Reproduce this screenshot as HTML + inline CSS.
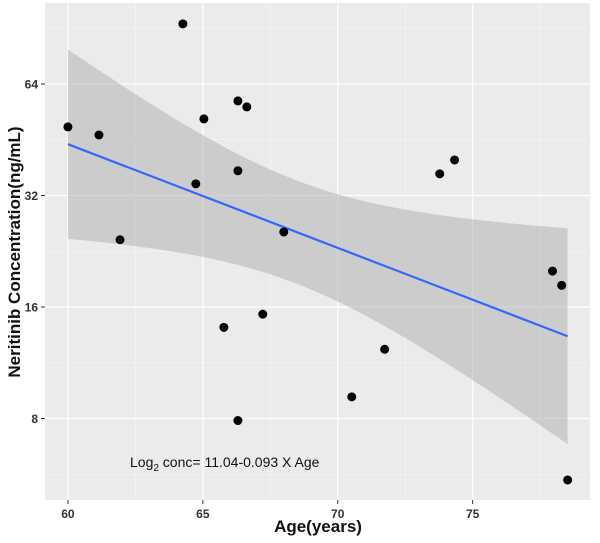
<!DOCTYPE html>
<html><head><meta charset="utf-8"><style>
body{margin:0;background:#fff;}
svg{display:block;font-family:"Liberation Sans",Arial,sans-serif;}
</style></head><body>
<svg id="chart" width="600" height="543" viewBox="0 0 600 543">
<rect x="45" y="3" width="545" height="497" fill="#ebebeb"/>
<g id="grid"></g><g id="band"></g><g id="line"></g><g id="pts"></g><g id="axes"></g>
<text x="130" y="467" font-size="14" fill="#111">Log<tspan font-size="10" dy="4">2</tspan><tspan dy="-4"> conc= 11.04-0.093 X Age</tspan></text>
<text x="318" y="532" font-size="17" font-weight="bold" text-anchor="middle" fill="#111">Age(years)</text>
<text transform="translate(20,252) rotate(-90)" font-size="17" font-weight="bold" text-anchor="middle" fill="#111">Neritinib Concentration(ng/mL)</text>
</svg>
<script>
const ages=[60,61.15,61.93,64.26,64.74,65.04,65.78,66.3,66.63,66.3,66.3,67.22,68,70.52,71.74,73.78,74.33,77.96,78.3,78.52];
const concs=[49,46.6,24.3,93,34.4,51.5,14.1,57.6,55.5,37.3,7.9,15.3,25.5,9.15,12.3,36.6,39.9,20,18.3,5.46];
const xTicks=[60,65,70,75];
const yTicks=[8,16,32,64];
const coef=[11.04,-0.093];
const NS="http://www.w3.org/2000/svg";
const X0=45,X1=590,Y0=3,Y1=500,dx=[59.15,79.35],dy=[2.269,6.726];
const sx=v=>X0+(v-dx[0])/(dx[1]-dx[0])*(X1-X0);
const sy=v=>Y1-(Math.log2(v)-dy[0])/(dy[1]-dy[0])*(Y1-Y0);
const syl=l=>Y1-(l-dy[0])/(dy[1]-dy[0])*(Y1-Y0);
function mk(t,a,p){const e=document.createElementNS(NS,t);for(const k in a)e.setAttribute(k,a[k]);p.appendChild(e);return e;}
const grid=document.getElementById('grid');
xTicks.forEach((t,i)=>{
 const g=mk('line',{x1:sx(t),x2:sx(t),y1:Y0,y2:Y1,stroke:'#fff','stroke-width':1.2},grid);
 
 
 const m=mk('line',{x1:sx(t+2.5),x2:sx(t+2.5),y1:Y0,y2:Y1,stroke:'#f7f7f7','stroke-width':0.6},grid);
 
 
});
yTicks.forEach(t=>{
 const g=mk('line',{x1:X0,x2:X1,y1:sy(t),y2:sy(t),stroke:'#fff','stroke-width':1.2},grid);
 
 
});
[5.657,11.31,22.63,45.25,90.5].forEach(t=>{
 const m=mk('line',{x1:X0,x2:X1,y1:sy(t),y2:sy(t),stroke:'#f7f7f7','stroke-width':0.6},grid);
 
 
});
// regression stats for band
const n=ages.length,xm=ages.reduce((a,b)=>a+b)/n;
let sxx=0,sse=0;ages.forEach((a,i)=>{sxx+=(a-xm)**2;sse+=(Math.log2(concs[i])-(coef[0]+coef[1]*a))**2;});
const s=Math.sqrt(sse/(n-2)),tq=2.1;
const xmin=Math.min(...ages),xmax=Math.max(...ages);
let up=[],lo=[];
for(let k=0;k<=60;k++){const a=xmin+(xmax-xmin)*k/60;const f=coef[0]+coef[1]*a;const h=tq*s*Math.sqrt(1/n+(a-xm)**2/sxx);
 up.push(sx(a)+','+syl(f+h));lo.unshift(sx(a)+','+syl(f-h));}
const band=mk('polygon',{points:up.concat(lo).join(' '),fill:'#b3b3b3','fill-opacity':0.55},document.getElementById('band'));


const ln=mk('line',{x1:sx(xmin),y1:syl(coef[0]+coef[1]*xmin),x2:sx(xmax),y2:syl(coef[0]+coef[1]*xmax),stroke:'#3366ff','stroke-width':2.2},document.getElementById('line'));


const pts=document.getElementById('pts');
ages.forEach((a,i)=>{
 const c=mk('circle',{cx:sx(a),cy:sy(concs[i]),r:4.5,fill:'#000'},pts);
 
 
});
const ax=document.getElementById('axes');
xTicks.forEach(t=>{
 mk('line',{x1:sx(t),x2:sx(t),y1:Y1,y2:Y1+4,stroke:'#333'},ax);
 const l=mk('text',{x:sx(t),y:Y1+18,'font-size':12,'font-weight':'bold','text-anchor':'middle',fill:'#333'},ax);l.textContent=t;
 
 
});
yTicks.forEach(t=>{
 mk('line',{x1:X0-4,x2:X0,y1:sy(t),y2:sy(t),stroke:'#333'},ax);
 const l=mk('text',{x:X0-7,y:sy(t)+4.5,'font-size':12,'font-weight':'bold','text-anchor':'end',fill:'#333'},ax);l.textContent=t;
 
 
});
</script>
</body></html>
